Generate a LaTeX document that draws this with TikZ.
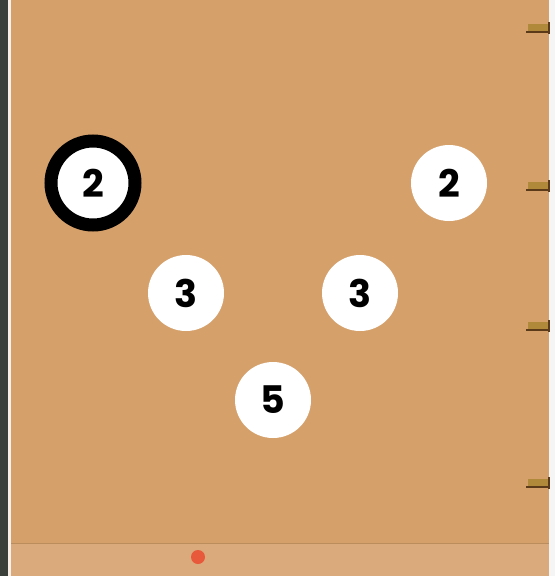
\documentclass[tikz,border=0pt]{standalone}
\usepackage{fontspec}
\setmainfont{Poppins}
\definecolor{tan}{HTML}{D5A06A}
\definecolor{tanlow}{HTML}{DBAA7C}
\definecolor{strip}{HTML}{3C403B}
\definecolor{notchsh}{HTML}{5A3A18}
\definecolor{notchhi}{HTML}{B08A3A}
\begin{document}
\begin{tikzpicture}[x=1pt,y=-1pt,
  disc/.style={circle,fill=white,minimum size=76pt,inner sep=0pt,font=\bfseries\fontsize{38}{38}\selectfont},
  ringdisc/.style={disc,minimum size=84pt,draw=black,line width=13pt},
  notch/.style={draw=notchsh,line width=1.6pt}]
\useasboundingbox (0,0) rectangle (555,576);
% background
\fill[white!92!gray] (0,0) rectangle (555,576);
\fill[tan] (10,0) rectangle (549,576);
\fill[tanlow] (10,544) rectangle (549,576);
\draw[tan!88!black,line width=0.8pt] (10,543) -- (549,543);
\fill[strip] (0,0) rectangle (8,576);
\fill[white!85!tan] (8,0) rectangle (11,576);
\fill[red!45!tan] (198,557) circle (7);
% right edge notches
\foreach \y in {32,190,330,487}{
  \fill[notchhi] (528,\y-8) rectangle (549,\y);
  \draw[notch] (526,\y) -- (549,\y);
  \draw[notchsh,line width=1.2pt] (549,\y-10) -- (549,\y+2);
}
% discs
\node[ringdisc] (a) at (93,183) {2};
\node[disc] (b) at (449,183) {2};
\node[disc] (c) at (186,293) {3};
\node[disc] (d) at (360,293) {3};
\node[disc] (e) at (273,400) {5};
\end{tikzpicture}
\end{document}
